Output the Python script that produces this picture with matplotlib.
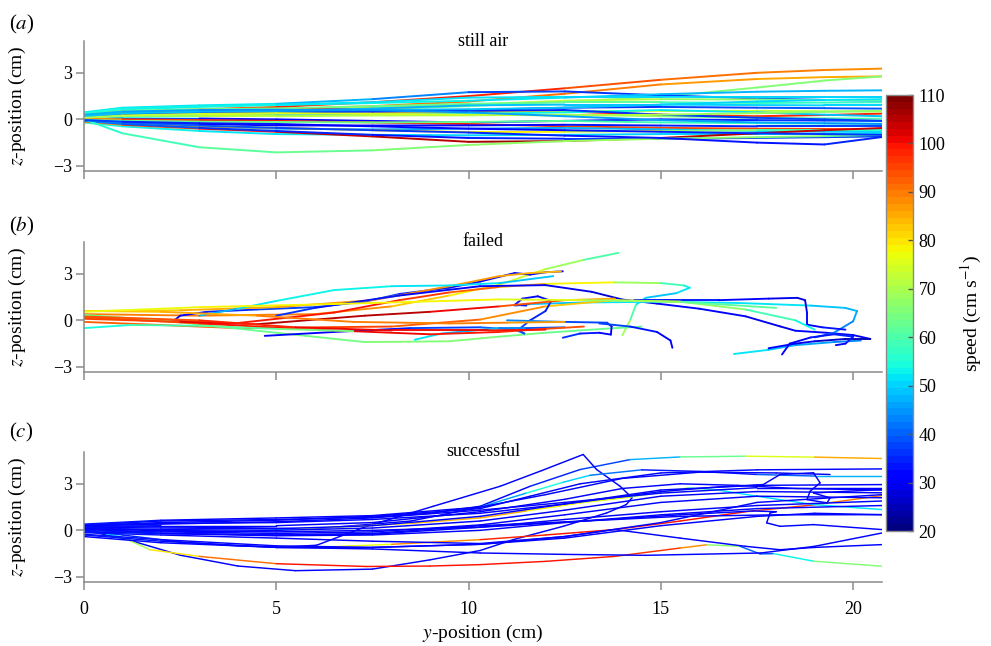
import numpy as np
import matplotlib
matplotlib.use('Agg')
import matplotlib.pyplot as plt
from matplotlib.collections import LineCollection
from matplotlib.colors import Normalize
from matplotlib.cm import ScalarMappable

plt.rcParams['font.family'] = ['Liberation Serif', 'DejaVu Serif']
plt.rcParams['mathtext.fontset'] = 'stix'

# ---------------- data ----------------
panel_titles = ['still air', 'failed', 'successful']
panel_letters = ['a', 'b', 'c']
speed_ticks = [20, 30, 40, 50, 60, 70, 80, 90, 100, 110]
x_ticks = [0, 5, 10, 15, 20]
z_ticks = [-3, 0, 3]

# (a) still air: shared y grid
still_y = [0, 1, 3, 5, 7.5, 10, 12.5, 15, 17.5, 19.25, 20.75]
still_z = [
    [0.30, 0.50, 0.65, 0.80, 1.10, 1.50, 2.00, 2.55, 3.00, 3.18, 3.27],
    [0.20, 0.45, 0.55, 0.65, 0.85, 1.15, 1.65, 2.25, 2.60, 2.72, 2.77],
    [0.10, 0.30, 0.40, 0.50, 0.65, 0.85, 1.15, 1.45, 2.05, 2.50, 2.77],
    [0.45, 0.75, 0.90, 1.00, 1.30, 1.75, 1.80, 1.55, 1.35, 1.25, 1.20],
    [0.35, 0.62, 0.80, 0.92, 1.05, 1.20, 1.40, 1.62, 1.78, 1.84, 1.87],
    [0.40, 0.70, 0.85, 0.95, 1.10, 1.40, 1.45, 1.45, 1.44, 1.44, 1.44],
    [0.25, 0.45, 0.55, 0.60, 0.75, 0.95, 1.20, 1.30, 1.28, 1.25, 1.23],
    [0.20, 0.40, 0.55, 0.70, 0.65, 0.55, 0.50, 0.30, 0.20, 0.28, 0.37],
    [0.30, 0.55, 0.65, 0.70, 0.85, 1.00, 1.10, 1.10, 1.05, 1.08, 1.10],
    [0.15, 0.35, 0.45, 0.55, 0.70, 0.90, 0.95, 0.95, 0.92, 0.90, 0.90],
    [0.10, 0.25, 0.35, 0.40, 0.55, 0.60, 0.75, 0.80, 0.75, 0.72, 0.69],
    [0.05, 0.20, 0.30, 0.35, 0.40, 0.45, 0.50, 0.55, 0.55, 0.52, 0.50],
    [0.00, 0.15, 0.20, 0.25, 0.30, 0.35, 0.45, 0.60, 0.45, 0.30, 0.20],
    [0.10, 0.20, 0.20, 0.20, 0.25, 0.26, 0.30, 0.20, 0.10, 0.06, 0.04],
    [0.00, 0.05, 0.05, 0.00, -0.10, -0.20, -0.10, 0.00, -0.05, -0.08, -0.10],
    [0.05, 0.00, -0.05, -0.10, -0.20, -0.30, -0.45, -0.55, -0.60, -0.62, -0.65],
    [-0.05, -0.10, -0.15, -0.17, -0.20, -0.17, -0.10, -0.20, -0.25, -0.27, -0.28],
    [-0.10, -0.20, -0.30, -0.39, -0.40, -0.39, -0.35, -0.40, -0.45, -0.45, -0.45],
    [-0.10, -0.25, -0.45, -0.60, -0.65, -0.60, -0.55, -0.65, -0.75, -0.80, -0.82],
    [-0.20, -0.35, -0.45, -0.55, -0.70, -0.82, -0.80, -0.75, -0.70, -0.70, -0.70],
    [-0.20, -0.45, -0.75, -0.95, -1.00, -1.03, -1.00, -0.95, -0.95, -0.95, -0.95],
    [-0.15, -0.35, -0.60, -0.80, -1.10, -1.45, -1.40, -1.20, -0.90, -0.70, -0.56],
    [-0.10, -0.30, -0.55, -0.75, -1.00, -1.20, -1.25, -1.25, -1.20, -1.15, -1.10],
    [0.00, -0.90, -1.80, -2.13, -2.00, -1.65, -1.40, -1.25, -1.15, -1.08, -1.00],
    [-0.05, -0.20, -0.40, -0.55, -0.70, -0.85, -1.05, -1.20, -1.50, -1.62, -1.14],
    [0.15, 0.30, 0.40, 0.45, 0.50, 0.55, 0.60, 0.30, 0.10, 0.00, -0.10],
    [0.20, 0.40, 0.50, 0.55, 0.60, 0.65, 0.75, 0.95, 1.15, 1.25, 1.30],
    [-0.05, -0.15, -0.25, -0.30, -0.45, -0.60, -0.70, -0.80, -0.90, -0.95, -1.00],
    [0.10, 0.25, 0.35, 0.40, 0.35, 0.30, 0.25, 0.30, 0.40, 0.48, 0.55],
    [0.30, 0.50, 0.60, 0.62, 0.58, 0.45, 0.20, -0.05, -0.20, -0.25, -0.30],
]
still_speed = [
    [75, 85, 92, 96, 99, 100, 97, 92, 90, 89, 88],
    [70, 78, 85, 88, 90, 92, 90, 88, 86, 85, 85],
    [55, 58, 60, 62, 63, 64, 65, 66, 66, 65, 65],
    [50, 52, 52, 50, 45, 40, 36, 35, 36, 37, 38],
    [52, 53, 54, 54, 53, 52, 50, 48, 47, 47, 47],
    [55, 54, 53, 52, 52, 52, 51, 50, 50, 50, 50],
    [65, 70, 74, 76, 75, 74, 72, 70, 65, 62, 60],
    [80, 88, 95, 100, 100, 99, 98, 97, 97, 98, 98],
    [60, 62, 63, 64, 64, 63, 62, 60, 58, 57, 57],
    [50, 50, 49, 48, 48, 48, 49, 50, 50, 50, 50],
    [45, 42, 40, 38, 36, 35, 35, 36, 38, 39, 40],
    [70, 75, 78, 80, 82, 80, 78, 75, 72, 71, 70],
    [55, 54, 52, 50, 50, 52, 53, 52, 50, 49, 48],
    [65, 68, 70, 72, 72, 70, 68, 66, 63, 61, 60],
    [42, 38, 34, 32, 30, 30, 32, 34, 36, 37, 38],
    [85, 92, 98, 100, 100, 98, 96, 95, 95, 95, 96],
    [58, 60, 62, 63, 63, 62, 60, 58, 56, 55, 55],
    [40, 36, 32, 30, 30, 31, 32, 34, 36, 37, 38],
    [52, 50, 48, 47, 46, 46, 47, 48, 49, 50, 50],
    [80, 84, 86, 85, 82, 80, 78, 70, 60, 56, 55],
    [55, 53, 52, 52, 51, 50, 50, 50, 50, 50, 50],
    [85, 92, 98, 102, 105, 106, 106, 105, 104, 103, 103],
    [44, 40, 37, 35, 34, 34, 35, 36, 37, 38, 38],
    [55, 57, 60, 62, 64, 67, 68, 68, 66, 64, 62],
    [45, 42, 40, 38, 36, 35, 34, 33, 33, 34, 36],
    [40, 38, 36, 35, 34, 34, 35, 36, 37, 38, 38],
    [50, 49, 48, 47, 47, 48, 49, 50, 50, 51, 51],
    [38, 36, 34, 33, 32, 32, 33, 34, 35, 36, 36],
    [68, 72, 74, 75, 75, 74, 72, 70, 68, 67, 66],
    [48, 46, 45, 44, 44, 45, 46, 47, 46, 45, 45],
]

# (b) failed
failed_y = [
    [0, 3, 6, 8, 9.5, 10.8, 12.0, 13.0, 13.9],
    [3.9, 3.0, 2.35, 2.5, 3.2, 4.5, 6.0, 7.3, 8.2, 9.5, 10.3, 11.2, 11.6, 12.0, 12.45],
    [0, 2.5, 5, 7.5, 9.5, 10.8, 11.6, 12.4],
    [3.0, 4.0, 5.0, 6.5, 8.0, 9.5, 10.8, 12.2],
    [0, 2, 3.9, 6.5, 8.2, 9.5, 10.8, 12.0, 13.8, 15.0, 15.6, 15.75, 15.4, 14.6, 14.35, 14.2, 14.0],
    [5.0, 6.0, 8.2, 10.3, 12.0, 13.2, 14.0, 14.9, 16.0, 17.2, 18.1, 18.5, 19.3, 20.0, 20.45],
    [11.2, 11.6, 13.0, 15.0, 17.0, 18.9, 19.8, 20.1, 20.0, 19.5, 19.0],
    [14.3, 16.5, 17.8, 18.55, 18.75, 18.8, 18.8, 19.2, 19.8],
    [0, 4, 8, 10.3, 12.0, 13.8, 15.5, 17.2, 18.5, 19.0],
    [0, 2, 5, 7.3, 9.5, 10.8, 12.0, 13.5, 14.5],
    [4.7, 6.5, 8.5, 10.3, 11.2, 11.45, 11.3, 11.6, 12.0, 12.15, 11.8, 11.4, 11.2, 11.5],
    [8.6, 9.3, 10.8, 11.5, 12.5],
    [12.45, 12.9, 13.4, 13.7, 13.72, 13.6, 12.5, 11.0],
    [13.4, 14.2, 14.9, 15.25, 15.3],
    [16.9, 17.8, 18.5, 19.5, 20.2],
    [17.8, 18.5, 19.0, 19.8, 20.45],
    [18.15, 18.35, 18.9, 19.5, 20.0, 19.8, 19.55],
    [0, 3, 6, 9, 10.8, 12.0, 13.0],
    [0, 2.5, 4.5, 7.3, 9.0, 10.8, 12.5, 13.8],
    [0, 2, 4.5, 7, 9.5, 11, 12.5],
    [0, 3, 5.5, 8, 10.5, 12],
    [0, 3, 6.5, 10.8, 13, 15.5, 18],
    [0, 1.2, 3, 5, 7],
]
failed_z = [
    [0.40, 0.30, 0.40, 0.90, 1.60, 2.30, 3.30, 3.90, 4.35],
    [-0.15, -0.15, 0.0, 0.3, 0.55, 0.7, 0.85, 1.2, 1.7, 2.1, 2.5, 3.05, 2.95, 3.1, 3.16],
    [0.6, 0.65, 0.85, 1.3, 2.2, 2.85, 3.05, 3.15],
    [0.3, 0.75, 1.25, 1.95, 2.2, 2.25, 2.4, 2.85],
    [0.2, 0.0, -0.2, 0.5, 1.3, 1.8, 2.15, 2.35, 2.45, 2.4, 2.25, 2.1, 1.75, 1.45, 1.0, 0.0, -0.95],
    [0.3, 0.8, 1.6, 2.2, 2.27, 1.84, 1.34, 1.08, 0.75, 0.26, -0.39, -0.67, -0.8, -0.95, -1.2],
    [0.95, 1.05, 1.15, 1.2, 1.12, 0.95, 0.8, 0.6, -0.06, -0.8, -1.1],
    [1.3, 1.3, 1.4, 1.45, 1.3, 0.5, -0.28, -0.45, -0.6],
    [-0.1, -0.5, -0.4, 0.05, 0.9, 1.3, 1.2, 0.7, 0.0, -0.6],
    [0.35, 0.0, -0.8, -1.4, -1.35, -1.05, -0.8, -0.55, -0.4],
    [-1.0, -0.75, -0.5, -0.45, -0.6, -0.85, -0.6, 0.0, 0.6, 1.25, 1.55, 1.4, 1.0, 0.95],
    [-1.25, -0.85, -0.5, -0.5, -0.45],
    [-1.12, -0.85, -0.8, -0.92, -0.4, -0.15, -0.1, 0.0],
    [-0.2, -0.4, -0.75, -1.3, -1.77],
    [-2.17, -1.9, -1.6, -1.4, -1.3],
    [-1.8, -1.5, -1.35, -1.2, -1.2],
    [-2.2, -1.5, -1.1, -0.9, -1.05, -1.5, -1.6],
    [0.2, -0.2, -0.6, -0.9, -0.75, -0.55, -0.4],
    [0.1, -0.1, -0.25, 0.3, 0.55, 0.9, 1.3, 1.4],
    [0.6, 0.55, 0.3, -0.1, -0.2, -0.15, -0.1],
    [0.25, 0.0, -0.45, -0.65, -0.65, -0.6],
    [0.55, 0.85, 1.05, 1.35, 1.3, 1.2, 0.8],
    [-0.5, -0.3, -0.35, -0.55, -0.7],
]
failed_speed = [
    [88, 90, 90, 86, 80, 76, 72, 65, 56],
    [35, 32, 28, 30, 33, 36, 38, 38, 36, 34, 32, 30, 32, 32, 30],
    [80, 84, 86, 88, 88, 86, 85, 84],
    [45, 50, 52, 53, 52, 52, 50, 48],
    [92, 96, 100, 100, 98, 95, 90, 82, 74, 62, 54, 52, 50, 48, 55, 65, 72],
    [38, 35, 33, 32, 30, 28, 28, 30, 30, 30, 28, 30, 32, 30, 28],
    [35, 45, 52, 52, 52, 50, 48, 47, 45, 42, 40],
    [34, 32, 30, 28, 28, 30, 32, 33, 34],
    [90, 95, 95, 90, 85, 80, 72, 62, 55, 50],
    [62, 63, 64, 65, 65, 65, 64, 63, 62],
    [30, 32, 36, 40, 42, 40, 38, 36, 34, 33, 32, 32, 34, 36],
    [52, 50, 45, 40, 38],
    [38, 34, 32, 30, 32, 34, 40, 45],
    [40, 35, 32, 30, 30],
    [52, 50, 48, 45, 40],
    [32, 30, 28, 26, 25],
    [30, 30, 32, 34, 35, 33, 32],
    [90, 98, 102, 100, 98, 95, 92],
    [92, 98, 103, 107, 104, 98, 90, 82],
    [80, 84, 88, 90, 90, 88, 85],
    [92, 96, 100, 102, 100, 98],
    [75, 78, 80, 78, 72, 65, 58],
    [52, 56, 60, 63, 65],
]

# (c) successful
success_y = [
    [0, 2, 5, 7.5, 9, 10.3, 11.6, 12.9, 14.2, 15.5, 17.2, 19.0, 20.75],
    [0, 1, 2.5, 4, 5.5, 7.5, 9, 10.3, 11.16, 12.46, 13.59, 14.1, 14.25, 13.94, 13.33, 12.98, 11.9, 10.82, 9.08, 7.35, 6.05, 5.0],
    [0, 3, 6, 8.5, 10.3, 11.5, 12.46, 13.16, 14.5, 16.0, 17.5, 19.0, 20.75],
    [0, 1, 1.72, 3.0, 5.0, 7.35, 9, 10.3, 12.0, 13.8, 15.5, 16.2, 17.06, 17.58, 17.93, 18.97, 20.75],
    [0, 1, 2.5, 4, 5.5, 6.5, 8, 10.3, 12, 13.8, 15.5, 17.2, 19.0, 20.75],
    [0, 2, 4, 5.5, 7, 8.5, 10.3, 11.5, 12.9, 14.2, 15.7, 16.4, 17.5, 18.97, 20.75],
    [0, 2, 5, 7.5, 10.3, 12, 14, 16, 18, 19.4],
    [0, 2, 5, 7.5, 10.3, 11.6, 12.9, 15, 17.5, 20.75],
    [0, 2, 5, 7.5, 10.3, 12.5, 14, 15.5, 17.0, 18.5, 20.75],
    [0, 2, 5, 7.5, 10.3, 12.5, 15, 17.5, 20.75],
    [0, 2, 5, 7.5, 10.3, 12.5, 15, 17.5, 20.75],
    [0, 2, 5, 7.5, 10.3, 12.5, 15, 17.5, 20.75],
    [0, 2, 5, 7.5, 10.3, 12.5, 15, 17.5, 20.75],
    [0, 2, 5, 7.5, 10.3, 12.5, 15, 17.5, 19, 20.75],
    [0, 2, 5, 7.5, 10.3, 12.5, 14.6, 17.6, 19.0, 20.75],
    [0, 2, 5, 7.5, 10.3, 12.5, 13.8, 15.5, 17.2, 18.1, 19.0, 20.75],
    [0, 2, 5, 7.5, 10.3, 13, 15.5, 17.4, 18.0, 17.84, 17.75, 18.1, 18.97, 20.75],
    [0, 2, 5, 7.5, 10.3, 12.5, 15, 16.5, 17.66, 18.1, 18.97, 19.14, 18.88, 18.8, 19.32, 19.4, 18.97, 20.75],
    [0, 2, 5, 7.5, 10.3, 12.5, 15, 17.5, 20.75],
    [0, 2, 5, 7.5, 10.3, 12.5, 15, 17.5, 20.75],
    [0, 2, 5, 7.5, 10.3, 12.5, 15, 17.5, 20.75],
    [0, 2, 5, 7.5, 10.3, 13, 15.5, 18, 20.75],
]
success_z = [
    [0.35, 0.6, 0.7, 0.85, 1.1, 1.55, 2.84, 3.92, 4.56, 4.73, 4.78, 4.72, 4.63],
    [0.0, -0.5, -1.6, -2.3, -2.6, -2.5, -1.9, -1.3, -0.6, 0.26, 1.12, 1.66, 2.1, 2.84, 3.92, 4.89, 3.85, 2.84, 1.55, 0.26, -0.96, -1.1],
    [0.3, 0.2, 0.1, 0.6, 1.5, 2.4, 3.1, 3.55, 3.9, 3.8, 3.6, 3.5, 3.5],
    [0.1, -0.45, -1.25, -1.68, -2.15, -2.33, -2.3, -2.21, -2.0, -1.68, -1.14, -0.93, -1.03, -1.52, -1.5, -1.99, -2.31],
    [0.0, -0.3, -0.75, -1.0, -1.1, -1.05, -0.9, -0.6, -0.3, 0.05, 0.6, 1.2, 1.65, 2.24],
    [0.2, -0.05, -0.1, 0.1, 0.25, 0.45, 0.8, 1.25, 1.77, 2.14, 2.73, 2.63, 2.2, 1.66, 1.34],
    [0.4, 0.65, 0.8, 0.95, 1.5, 2.3, 3.35, 3.75, 3.7, 3.6],
    [0.3, 0.5, 0.65, 0.9, 1.4, 2.2, 3.0, 3.7, 3.9, 3.96],
    [0.25, 0.3, 0.3, 0.5, 1.2, 2.0, 2.7, 3.0, 2.9, 2.7, 2.6],
    [0.2, 0.15, 0.1, 0.3, 0.9, 1.7, 2.6, 2.9, 2.95],
    [0.15, 0.05, 0.0, 0.15, 0.6, 1.3, 2.2, 2.5, 2.42],
    [0.05, -0.1, -0.2, -0.1, 0.35, 1.0, 1.8, 2.2, 2.1],
    [-0.1, -0.2, -0.3, -0.25, 0.2, 0.7, 1.2, 1.6, 1.89],
    [-0.25, -0.6, -1.0, -1.1, -0.9, -0.5, 0.3, 0.9, 1.1, 1.01],
    [-0.4, -0.8, -1.1, -1.2, -1.46, -1.55, -1.61, -1.46, -1.03, -0.17],
    [-0.15, -0.3, -0.5, -0.7, -0.85, -0.4, 0.05, -0.5, -1.03, -1.25, -1.1, -0.92],
    [0.1, 0.0, -0.1, 0.0, 0.2, 0.6, 1.0, 1.25, 1.2, 1.12, 0.48, 0.26, 0.37, 0.05],
    [0.35, 0.45, 0.5, 0.7, 1.1, 1.7, 2.5, 2.8, 2.95, 3.6, 3.71, 3.06, 2.52, 1.98, 1.77, 2.09, 2.41, 2.63],
    [0.1, -0.2, -0.35, -0.3, 0.0, 0.5, 1.0, 1.4, 1.6],
    [-0.3, -0.7, -1.1, -1.1, -0.9, -0.4, 0.5, 1.8, 2.3],
    [0.3, 0.4, 0.55, 0.8, 1.3, 1.8, 2.4, 2.75, 2.75],
    [0.0, -0.2, -0.3, -0.2, 0.3, 0.6, 0.9, 1.0, 1.01],
]
success_speed = [
    [32, 32, 32, 32, 32, 32, 33, 36, 40, 55, 70, 82, 88],
    [33, 32, 31, 30, 30, 31, 32, 32, 31, 30, 30, 31, 32, 32, 31, 30, 30, 31, 32, 32, 32, 33],
    [32, 32, 32, 32, 33, 58, 52, 48, 35, 32, 35, 45, 50],
    [40, 65, 75, 85, 98, 100, 100, 100, 100, 99, 95, 80, 50, 32, 45, 62, 68],
    [40, 36, 33, 32, 40, 72, 82, 95, 100, 100, 100, 98, 92, 88],
    [32, 32, 32, 70, 76, 80, 88, 82, 76, 74, 62, 54, 50, 50, 52],
    [34, 32, 31, 30, 30, 31, 32, 31, 30, 29],
    [33, 32, 31, 31, 30, 31, 32, 32, 31, 30],
    [34, 33, 32, 31, 31, 30, 31, 32, 32, 31, 31],
    [33, 32, 31, 30, 30, 31, 32, 32, 31],
    [35, 33, 32, 31, 30, 30, 31, 32, 32],
    [34, 32, 31, 30, 31, 31, 32, 33, 32],
    [33, 32, 31, 31, 30, 31, 32, 32, 31],
    [34, 33, 32, 31, 30, 30, 31, 32, 32, 31],
    [33, 32, 31, 30, 30, 31, 31, 32, 32, 31],
    [34, 32, 31, 30, 30, 31, 32, 31, 30, 30, 31, 32],
    [33, 32, 31, 30, 30, 31, 32, 32, 31, 30, 30, 31, 32, 32],
    [34, 33, 32, 31, 30, 30, 31, 32, 32, 31, 30, 30, 31, 31, 32, 32, 31, 31],
    [33, 32, 31, 30, 30, 31, 32, 32, 31],
    [34, 32, 31, 30, 31, 32, 32, 31, 30],
    [33, 32, 31, 31, 30, 31, 32, 32, 31],
    [34, 33, 32, 31, 30, 31, 32, 32, 31],
]

# ---------------- figure ----------------
cmap = plt.get_cmap('jet', 64)
norm = Normalize(vmin=20, vmax=110)
grey = '#8a8a8a'

fig = plt.figure(figsize=(9.91, 6.46), dpi=100)
W, H = 991.0, 646.0
left, width, height = 84 / W, 798 / W, 130 / H
bottoms = [1 - 171 / H, 1 - 372 / H, 1 - 582 / H]
letter_y = [24, 226, 432]


def draw(ax, ys, zs, ss, lw):
    for y, z, s in zip(ys, zs, ss):
        pts = np.column_stack([np.asarray(y, float), np.asarray(z, float)])
        segs = np.stack([pts[:-1], pts[1:]], axis=1)
        sp = np.asarray(s, float)
        lc = LineCollection(segs, cmap=cmap, norm=norm, linewidths=lw,
                            capstyle='round', joinstyle='round')
        lc.set_array(0.5 * (sp[:-1] + sp[1:]))
        ax.add_collection(lc)


panel_data = [
    ([still_y] * len(still_z), still_z, still_speed, 1.4),
    (failed_y, failed_z, failed_speed, 1.35),
    (success_y, success_z, success_speed, 1.05),
]

axes = []
for i in range(3):
    ax = fig.add_axes([left, bottoms[i], width, height])
    ys, zs, ss, lw = panel_data[i]
    draw(ax, ys, zs, ss, lw)
    ax.set_xlim(0, 20.75)
    ax.set_ylim(-3.33, 5.05)
    ax.set_xticks(x_ticks)
    ax.set_yticks(z_ticks)
    for sp in ['top', 'right']:
        ax.spines[sp].set_visible(False)
    for sp in ['left', 'bottom']:
        ax.spines[sp].set_color(grey)
        ax.spines[sp].set_linewidth(1.1)
    ax.tick_params(axis='both', direction='out', length=5.5, width=1.1,
                   color=grey, labelsize=13)
    ax.tick_params(axis='y', pad=3)
    ax.tick_params(axis='x', pad=8)
    if i < 2:
        ax.tick_params(axis='x', labelbottom=False)
    ax.set_ylabel('$z$-position (cm)', fontsize=14)
    ax.yaxis.set_label_coords(-0.07, 0.5)
    ax.text(0.5, 1.0, panel_titles[i], transform=ax.transAxes,
            ha='center', va='center', fontsize=13)
    fig.text(9 / W, 1 - letter_y[i] / H, '($%s$)' % panel_letters[i],
             ha='left', va='center', fontsize=15)
    axes.append(ax)

fig.text(483 / W, 1 - 633 / H, '$y$-position (cm)', ha='center',
         va='center', fontsize=14)

cax = fig.add_axes([886 / W, 1 - 531 / H, 27 / W, 436 / H])
cb = fig.colorbar(ScalarMappable(norm=norm, cmap=cmap), cax=cax,
                  ticks=speed_ticks)
cb.outline.set_edgecolor(grey)
cb.outline.set_linewidth(1.0)
cax.tick_params(direction='in', length=3.5, width=1.0, color='#555555',
                labelsize=13, pad=4)
cb.set_label('speed (cm s$^{\\mathrm{-1}}$)', fontsize=14, labelpad=10)

fig.savefig('out.png', dpi=100)
